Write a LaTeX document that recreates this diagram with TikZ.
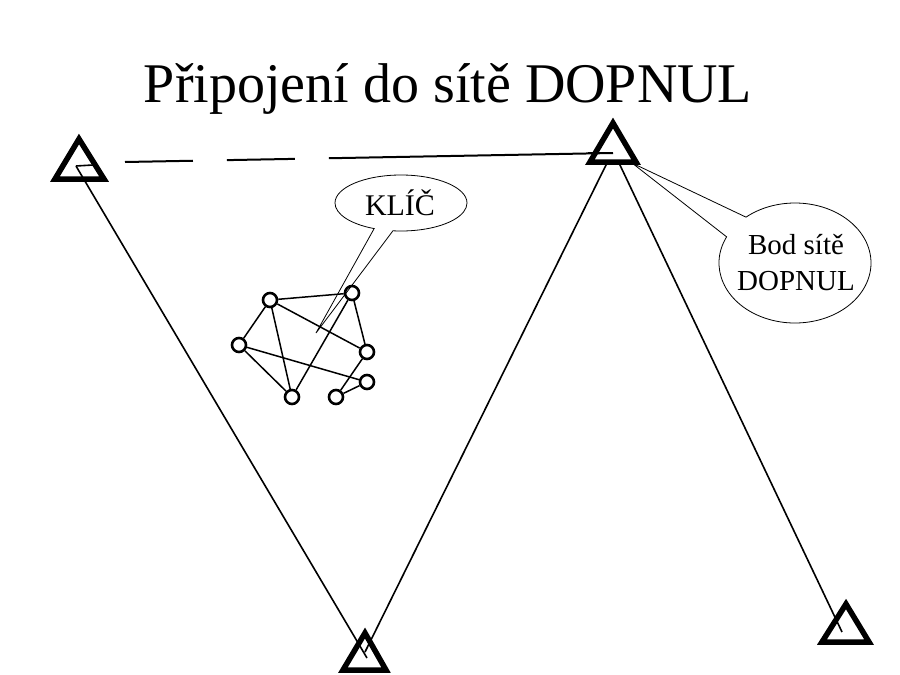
\documentclass[tikz,border=0pt]{standalone}
\usepackage{fontspec}
\newfontfamily\lbs{Liberation Serif}
\usetikzlibrary{shapes.callouts,shapes.geometric}
\begin{document}
\begin{tikzpicture}[x=1pt,y=-1pt,
  tri/.style={line width=5.5pt,line join=miter},
  leg/.style={line width=1.6pt},
  gnode/.style={circle,draw,line width=2.6pt,minimum size=14pt,inner sep=0pt},
  gedge/.style={line width=1.5pt},
  bubble/.style={ellipse callout,draw,line width=0.8pt,inner sep=0pt,fill=none},
  lbl/.style={inner sep=0pt,anchor=base}]
\useasboundingbox (0,0) rectangle (900,675);
% title
\node[lbl,font=\lbs\fontsize{56}{56}\selectfont] (title) at (448,102) {Připojení do sítě DOPNUL};
% triangles
\draw[tri] (79,139) -- (104,179) -- (55,179) -- cycle;
\draw[tri] (613,123) -- (636,162) -- (590,162) -- cycle;
\draw[tri] (365,633) -- (386,670) -- (343,670) -- cycle;
\draw[tri] (846,604) -- (869,642) -- (822,642) -- cycle;
% anchor points inside triangles
\coordinate (t1) at (76,166);
\coordinate (t1h) at (93,165);
\coordinate (t2) at (613,153);
\coordinate (t2a) at (607,163);
\coordinate (t2b) at (619,163);
\coordinate (t2h) at (588,153);
\coordinate (t3) at (367,658);
\coordinate (t3b) at (365,652);
\coordinate (t4) at (842,632);
\coordinate (d0) at (125,162);
% legs
\draw[leg] (t1) -- (t1h);
\draw[leg] (t1) -- (t3);
\draw[leg] (t3b) -- (t2a);
\draw[leg] (t2b) -- (t4);
\draw[leg] (t2h) -- (t2);
\draw[line width=2pt,dash pattern=on 68pt off 34pt on 68pt off 34pt on 600pt] (d0) -- (t2);
% graph
\node[gnode] (a) at (270,300) {};
\node[gnode] (b) at (352,293) {};
\node[gnode] (c) at (239,345) {};
\node[gnode] (d) at (367,352) {};
\node[gnode] (e) at (367,382) {};
\node[gnode] (f) at (292,397) {};
\node[gnode] (g) at (336,397) {};
\draw[gedge] (a) -- (b);
\draw[gedge] (a) -- (c);
\draw[gedge] (a) -- (d);
\draw[gedge] (a) -- (f);
\draw[gedge] (b) -- (d);
\draw[gedge] (b) -- (f);
\draw[gedge] (c) -- (f);
\draw[gedge] (c) -- (e);
\draw[gedge] (d) -- (g);
\draw[gedge] (g) -- (e);
% callouts
\node[bubble,minimum width=132pt,minimum height=56pt,callout pointer arc=17,
      callout absolute pointer={(316,333)}] (klic) at (401,203) {};
\node[lbl,font=\lbs\fontsize{30}{30}\selectfont] (klict) at (400,215) {KLÍČ};
\node[bubble,minimum width=152pt,minimum height=120pt,callout pointer arc=24,
      callout absolute pointer={(632,163)}] (bod) at (795,263) {};
\node[lbl,font=\lbs\fontsize{29}{29}\selectfont] (bodt1) at (796,254) {Bod sítě};
\node[lbl,font=\lbs\fontsize{29}{29}\selectfont] (bodt2) at (796,290) {DOPNUL};
\end{tikzpicture}
\end{document}
